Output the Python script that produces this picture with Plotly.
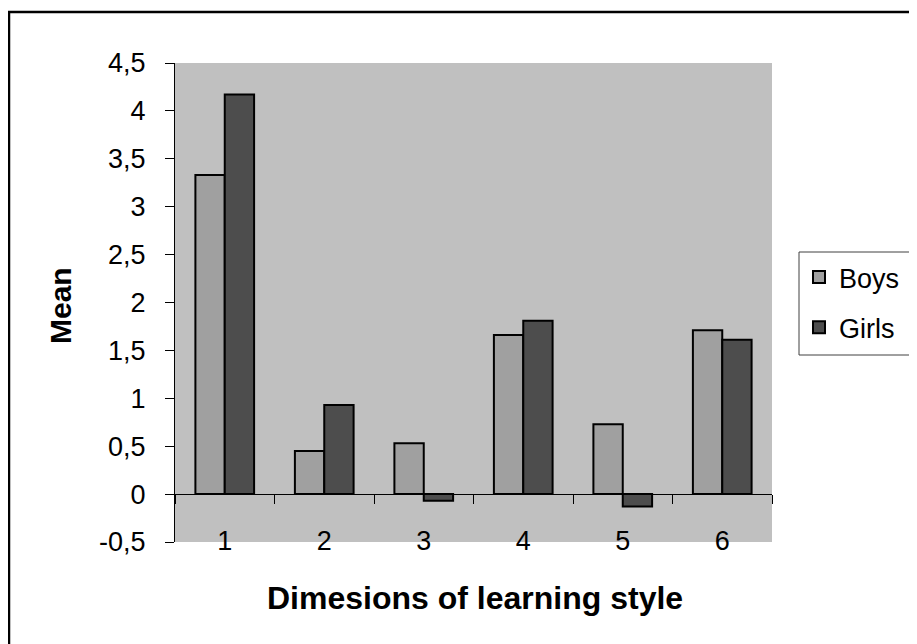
import plotly.graph_objects as go

categories = ["1", "2", "3", "4", "5", "6"]
boys = [3.33, 0.45, 0.53, 1.66, 0.73, 1.71]
girls = [4.17, 0.93, -0.07, 1.81, -0.13, 1.61]
y_tick_vals = [-0.5, 0, 0.5, 1, 1.5, 2, 2.5, 3, 3.5, 4, 4.5]
y_tick_text = ["-0,5", "0", "0,5", "1", "1,5", "2", "2,5", "3", "3,5", "4", "4,5"]

FONT = "Liberation Sans, Arial, sans-serif"

fig = go.Figure()
fig.add_trace(go.Bar(
    x=categories, y=boys, name="Boys", legendgroup="b",
    marker=dict(color="#A0A0A0", line=dict(color="black", width=2)),
))
fig.add_trace(go.Bar(
    x=categories, y=girls, name="Girls", legendgroup="g",
    marker=dict(color="#4D4D4D", line=dict(color="black", width=2)),
))

# page body has an 8px margin; work in screen coordinates and offset
OFF = 8
W, H = 917 - OFF, 644 - OFF
L, R, T, B = 175 - OFF, 772 - OFF, 63 - OFF, 542 - OFF
pw, ph = R - L, B - T

def px(x):
    return (x - OFF - L) / pw

def py(y):
    return (B - (y - OFF)) / ph

fig.update_layout(
    width=W, height=H,
    margin=dict(l=L, r=W - R, t=T, b=H - B, pad=0, autoexpand=False),
    paper_bgcolor="white",
    plot_bgcolor="#C0C0C0",
    barmode="group",
    bargap=0.41,
    bargroupgap=0,
    font=dict(family=FONT, color="black", size=27),
    showlegend=True,
    legend=dict(
        x=px(799), y=py(253), xanchor="left", yanchor="top",
        bgcolor="rgba(0,0,0,0)", borderwidth=0,
        font=dict(size=27, family=FONT, color="black"),
        tracegroupgap=12, traceorder="grouped",
    ),
    xaxis=dict(
        type="category",
        anchor="free", position=0.1,
        showline=True, linecolor="black", linewidth=1,
        ticks="outside", ticklen=9, tickcolor="black", tickwidth=1,
        tickson="boundaries",
        showgrid=False, zeroline=False,
        tickfont=dict(size=27, family=FONT, color="black"),
        ticklabelstandoff=22,
    ),
    yaxis=dict(
        range=[-0.5, 4.5],
        tickvals=y_tick_vals, ticktext=y_tick_text,
        showline=True, linecolor="black", linewidth=1,
        ticks="outside", ticklen=9, tickcolor="black", tickwidth=1,
        showgrid=False, zeroline=False,
        tickfont=dict(size=27, family=FONT, color="black"),
        ticklabelstandoff=14,
    ),
    shapes=[
        dict(type="rect", xref="paper", yref="paper",
             x0=px(9), x1=px(940), y0=py(12), y1=py(670),
             line=dict(color="black", width=2.5), fillcolor="rgba(0,0,0,0)",
             layer="above"),
        # legend frame (runs off the right edge as in the original)
        dict(type="rect", xref="paper", yref="paper",
             x0=px(799), x1=px(960), y0=py(252), y1=py(355),
             line=dict(color="#404040", width=1), fillcolor="white",
             layer="above"),
    ],
    annotations=[
        dict(text="<b>Dimesions of learning style</b>", xref="paper", yref="paper",
             x=px(475), y=py(598), xanchor="center", yanchor="middle",
             showarrow=False, font=dict(size=32, family=FONT, color="black")),
        dict(text="<b>Mean</b>", xref="paper", yref="paper",
             x=px(60), y=py(306), xanchor="center", yanchor="middle",
             textangle=-90,
             showarrow=False, font=dict(size=30, family=FONT, color="black")),
    ],
)

fig.write_html("out.html")
